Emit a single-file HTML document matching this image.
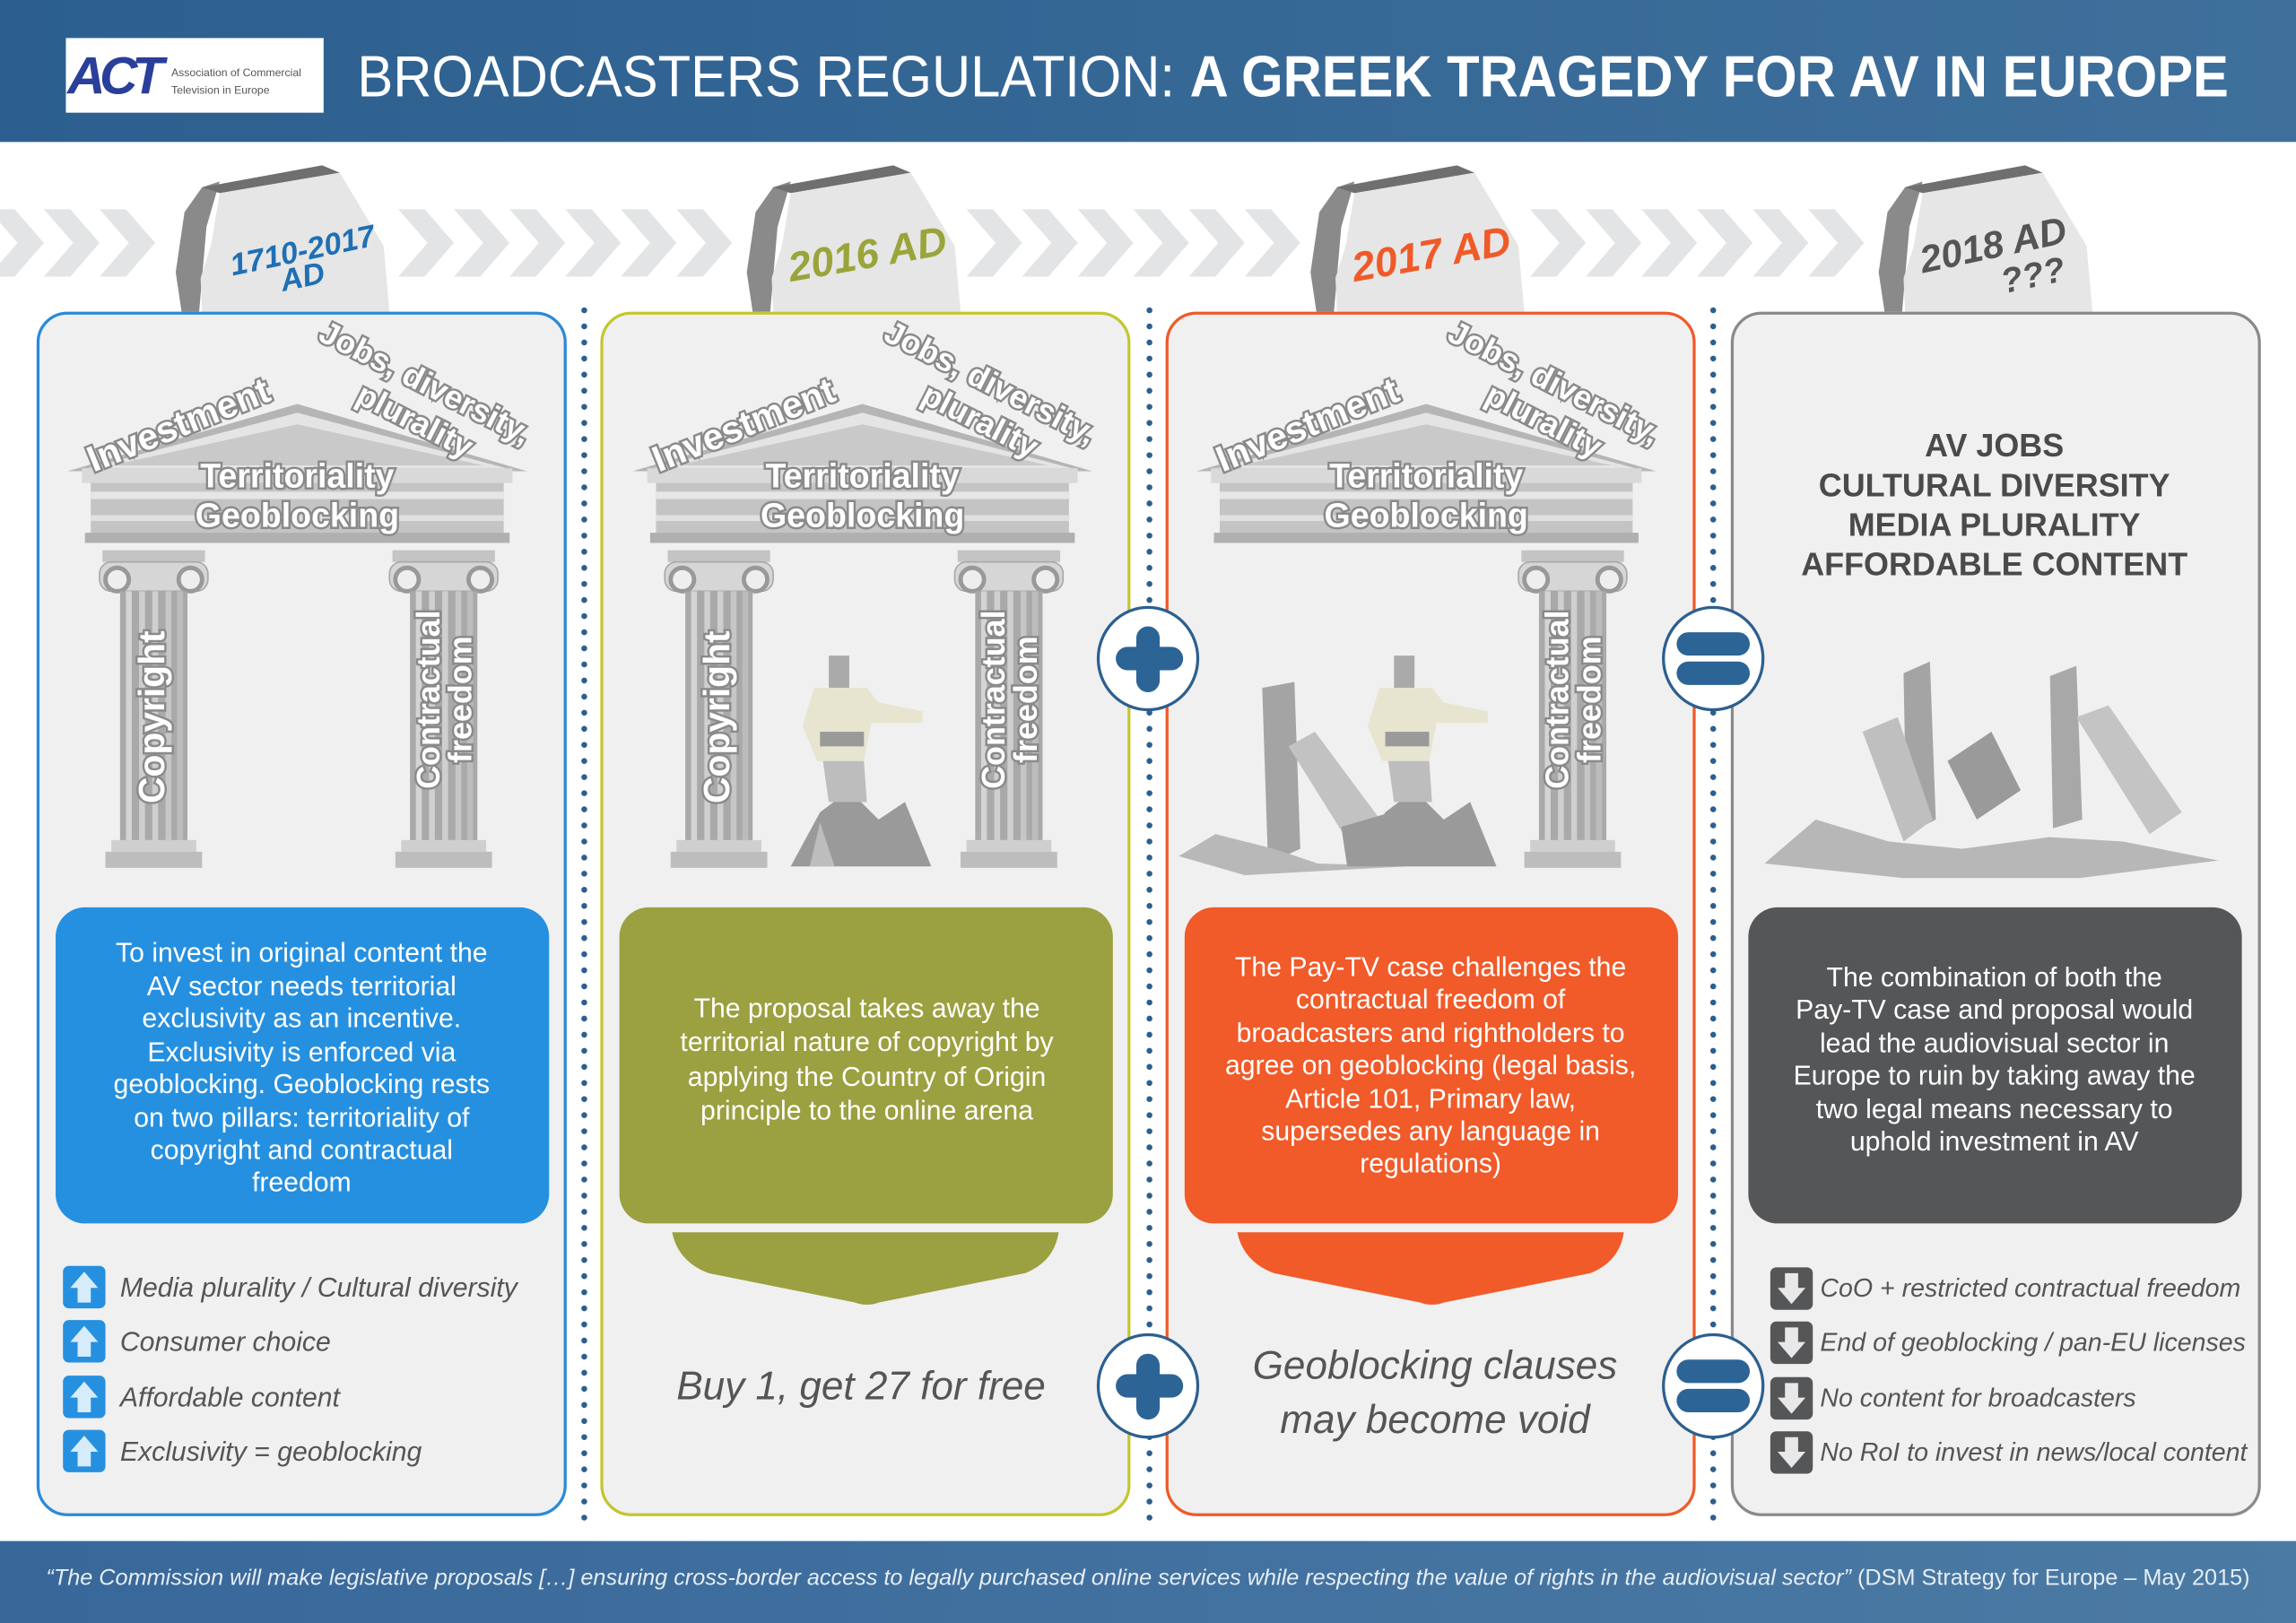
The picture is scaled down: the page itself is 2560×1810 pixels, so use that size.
<!DOCTYPE html>
<html><head><meta charset="utf-8"><style>
html,body{margin:0;padding:0;background:#fff;}
svg{display:block}
text{font-family:"Liberation Sans",sans-serif}
</style></head><body>
<svg width="2560" height="1810" viewBox="0 0 1568 1109" preserveAspectRatio="none" xmlns="http://www.w3.org/2000/svg">
<defs>
<linearGradient id="hdr" x1="0" x2="1"><stop offset="0" stop-color="#2c5f8f"/><stop offset="1" stop-color="#3f709c"/></linearGradient>
<linearGradient id="ftr" x1="0" x2="1"><stop offset="0" stop-color="#38689a"/><stop offset="1" stop-color="#4b7aa4"/></linearGradient>
<g id="col">
 <rect x="70" y="376" width="70" height="8" fill="#c4c4c4"/>
 <rect x="68" y="384" width="74" height="20" rx="8" fill="#d6d6d6" stroke="#a8a8a8"/>
 <circle cx="80" cy="396" r="8" fill="#eee" stroke="#999" stroke-width="3"/>
 <circle cx="130" cy="396" r="8" fill="#eee" stroke="#999" stroke-width="3"/>
 <rect x="82" y="404" width="46" height="174" fill="#a9a9a9"/>
 <rect x="86" y="404" width="4" height="174" fill="#d4d4d4"/>
 <rect x="95" y="404" width="4" height="174" fill="#cfcfcf"/>
 <rect x="104" y="404" width="4" height="174" fill="#cfcfcf"/>
 <rect x="113" y="404" width="4" height="174" fill="#c6c6c6"/>
 <rect x="121" y="404" width="4" height="174" fill="#bcbcbc"/>
 <rect x="76" y="574" width="58" height="8" fill="#cfcfcf"/>
 <rect x="72" y="582" width="66" height="11" fill="#bdbdbd"/>
</g>
<g id="roof">
 <polygon points="46,322 203,276 360,322" fill="#b5b5b5"/>
 <polygon points="60,320 203,282 346,320" fill="#e4e4e4"/>
 <polygon points="76,318 203,290 330,318" fill="#c9c9c9"/>
 <rect x="56" y="320" width="294" height="10" fill="#d9d9d9"/>
 <rect x="62" y="330" width="282" height="36" fill="#c4c4c4"/>
 <rect x="62" y="336" width="282" height="5" fill="#e6e6e6"/>
 <rect x="62" y="352" width="282" height="4" fill="#e0e0e0"/>
 <rect x="58" y="364" width="290" height="7" fill="#b0b0b0"/>
</g>
<g id="tomb">
 <polygon points="120,186 126,145 138,128 150,124 141,155 136,213 124,213" fill="#8a8a8a"/>
 <polygon points="138,128 220,113 232,118 150,132" fill="#6f6f6f"/>
 <polygon points="150,132 232,118 262,168 266,213 138,213 137,190 144,168" fill="#e6e6e6"/>
</g>
<g id="chev"><polygon points="0,143 18,143 38,166 18,189 0,189 20,166" fill="#e3e4e5"/></g>
</defs>

<!-- header -->
<rect x="0" y="0" width="1568" height="97" fill="url(#hdr)"/>
<rect x="45" y="26" width="176" height="51" fill="#fff"/>
<text x="46" y="64" font-size="36" font-weight="bold" fill="#2a3f9a" letter-spacing="-4" font-style="italic">ACT</text>
<text x="117" y="52" font-size="7.5" fill="#555">Association of Commercial</text>
<text x="117" y="64" font-size="7.5" fill="#555">Television in Europe</text>
<text x="244" y="66" font-size="40" fill="#fff" textLength="1278" lengthAdjust="spacingAndGlyphs"><tspan font-weight="300">BROADCASTERS REGULATION: </tspan><tspan font-weight="bold">A GREEK TRAGEDY FOR AV IN EUROPE</tspan></text>

<!-- chevrons -->
<g>
<use href="#chev" x="-8"/><use href="#chev" x="30"/><use href="#chev" x="68"/>
<use href="#chev" x="272"/><use href="#chev" x="310"/><use href="#chev" x="348"/><use href="#chev" x="386"/><use href="#chev" x="424"/><use href="#chev" x="462"/>
<use href="#chev" x="660"/><use href="#chev" x="698"/><use href="#chev" x="736"/><use href="#chev" x="774"/><use href="#chev" x="812"/><use href="#chev" x="850"/>
<use href="#chev" x="1045"/><use href="#chev" x="1083"/><use href="#chev" x="1121"/><use href="#chev" x="1159"/><use href="#chev" x="1197"/><use href="#chev" x="1235"/>
</g>
<use href="#tomb"/><use href="#tomb" x="390"/><use href="#tomb" x="775"/><use href="#tomb" x="1163"/>
<g font-weight="bold" font-style="italic">
<text transform="translate(208,178) rotate(-12)" font-size="21" fill="#1f6fb5" text-anchor="middle">1710-2017</text>
<text transform="translate(208,196) rotate(-12)" font-size="21" fill="#1f6fb5" text-anchor="middle">AD</text>
<text transform="translate(594,183) rotate(-10)" font-size="28" fill="#9aa43a" text-anchor="middle">2016 AD</text>
<text transform="translate(979,183) rotate(-10)" font-size="28" fill="#f05a28" text-anchor="middle">2017 AD</text>
<text transform="translate(1363,176) rotate(-12)" font-size="26" fill="#555" text-anchor="middle">2018 AD</text>
<text transform="translate(1390,196) rotate(-12)" font-size="24" fill="#555" text-anchor="middle">???</text>
</g>

<!-- panels -->
<rect x="26" y="214" width="360" height="821" rx="20" fill="#f0f0f0" stroke="#2a8ad8" stroke-width="2"/>
<rect x="411" y="214" width="360" height="821" rx="20" fill="#f0f0f0" stroke="#c3c72e" stroke-width="2"/>
<rect x="797" y="214" width="360" height="821" rx="20" fill="#f0f0f0" stroke="#f05a28" stroke-width="2"/>
<rect x="1183" y="214" width="360" height="821" rx="20" fill="#f0f0f0" stroke="#8a8a8a" stroke-width="2"/>

<!-- dotted separators -->
<g stroke="#2c5f8f" stroke-width="4" stroke-linecap="round" stroke-dasharray="0 11">
<line x1="399" y1="212" x2="399" y2="1045"/>
<line x1="785" y1="212" x2="785" y2="1045"/>
<line x1="1170" y1="212" x2="1170" y2="1045"/>
</g>

<!-- temples -->
<use href="#roof"/><use href="#col"/><use href="#col" x="198"/>
<use href="#roof" x="386"/><use href="#col" x="386"/><use href="#col" x="584"/>
<use href="#roof" x="771"/><use href="#col" x="969"/>

<!-- figure panel 2 -->
<g id="hero">
<polygon points="540,592 560,555 580,540 600,560 618,548 636,592" fill="#9a9a9a"/>
<polygon points="553,592 560,562 570,592" fill="#bdbdbd"/>
<rect x="566" y="448" width="14" height="22" fill="#aaa"/>
<polygon points="556,470 592,470 600,480 630,486 630,494 595,494 590,520 558,520 548,496" fill="#e7e5d0"/>
<rect x="560" y="500" width="30" height="10" fill="#9a9a9a"/>
<polygon points="562,520 590,520 592,548 566,548" fill="#bdbdbd"/>
</g>
<use href="#hero" x="386"/>

<!-- ruins panel 3 -->
<g fill="#b0b0b0">
<polygon points="862,470 884,466 888,580 866,590" fill="#a4a4a4"/>
<polygon points="880,510 898,500 950,570 930,590" fill="#c2c2c2"/>
<polygon points="805,585 830,570 870,580 900,590 960,592 850,598" fill="#b8b8b8"/>
<polygon points="916,565 950,555 960,592 920,592" fill="#9a9a9a"/>
</g>
<!-- ruins panel 4 -->
<g>
<polygon points="1300,460 1318,452 1322,560 1302,570" fill="#a4a4a4"/>
<polygon points="1272,500 1296,490 1320,560 1300,575" fill="#bfbfbf"/>
<polygon points="1400,462 1418,455 1422,560 1402,566" fill="#a8a8a8"/>
<polygon points="1418,490 1440,482 1490,555 1468,570" fill="#c4c4c4"/>
<polygon points="1205,590 1240,560 1290,575 1340,580 1400,572 1450,575 1515,588 1420,600 1300,600" fill="#b7b7b7"/>
<polygon points="1330,520 1360,500 1380,540 1350,560" fill="#9a9a9a"/>
</g>

<!-- temple labels -->
<g font-weight="bold" fill="#fff" stroke="#8a8a8a" stroke-width="3" paint-order="stroke" text-anchor="middle">
<text x="203" y="333" font-size="23">Territoriality</text>
<text x="203" y="360" font-size="23">Geoblocking</text>
<text transform="translate(125,298) rotate(-22)" font-size="25">Investment</text>
<text transform="translate(287,268) rotate(27)" font-size="22">Jobs, diversity,</text>
<text transform="translate(280,294) rotate(27)" font-size="22">plurality</text>
<text transform="translate(112,490) rotate(-90)" font-size="25">Copyright</text>
<text transform="translate(300,478) rotate(-90)" font-size="22">Contractual</text>
<text transform="translate(322,478) rotate(-90)" font-size="22">freedom</text>

<text x="589" y="333" font-size="23">Territoriality</text>
<text x="589" y="360" font-size="23">Geoblocking</text>
<text transform="translate(511,298) rotate(-22)" font-size="25">Investment</text>
<text transform="translate(673,268) rotate(27)" font-size="22">Jobs, diversity,</text>
<text transform="translate(666,294) rotate(27)" font-size="22">plurality</text>
<text transform="translate(498,490) rotate(-90)" font-size="25">Copyright</text>
<text transform="translate(686,478) rotate(-90)" font-size="22">Contractual</text>
<text transform="translate(708,478) rotate(-90)" font-size="22">freedom</text>

<text x="974" y="333" font-size="23">Territoriality</text>
<text x="974" y="360" font-size="23">Geoblocking</text>
<text transform="translate(896,298) rotate(-22)" font-size="25">Investment</text>
<text transform="translate(1058,268) rotate(27)" font-size="22">Jobs, diversity,</text>
<text transform="translate(1051,294) rotate(27)" font-size="22">plurality</text>
<text transform="translate(1071,478) rotate(-90)" font-size="22">Contractual</text>
<text transform="translate(1093,478) rotate(-90)" font-size="22">freedom</text>
</g>

<g font-weight="bold" fill="#4a4a4a" font-size="22" text-anchor="middle">
<text x="1362" y="312">AV JOBS</text>
<text x="1362" y="339">CULTURAL DIVERSITY</text>
<text x="1362" y="366">MEDIA PLURALITY</text>
<text x="1362" y="393">AFFORDABLE CONTENT</text>
</g>

<!-- text boxes -->
<rect x="38" y="620" width="337" height="216" rx="20" fill="#2690e0"/>
<rect x="423" y="620" width="337" height="216" rx="20" fill="#9ba040"/>
<rect x="809" y="620" width="337" height="216" rx="20" fill="#f15a29"/>
<rect x="1194" y="620" width="337" height="216" rx="20" fill="#555658"/>
<path d="M459,842 L723,842 Q720,862 700,870 L600,890 Q592,893 584,890 L484,870 Q463,862 459,842 Z" fill="#9ba040"/>
<path d="M845,842 L1109,842 Q1106,862 1086,870 L986,890 Q978,893 970,890 L870,870 Q849,862 845,842 Z" fill="#f15a29"/>

<g fill="#fff" font-size="18.5" text-anchor="middle">
<text x="206" y="657">To invest in original content the</text>
<text x="206" y="680">AV sector needs territorial</text>
<text x="206" y="702">exclusivity as an incentive.</text>
<text x="206" y="725">Exclusivity is enforced via</text>
<text x="206" y="747">geoblocking. Geoblocking rests</text>
<text x="206" y="770">on two pillars: territoriality of</text>
<text x="206" y="792">copyright and contractual</text>
<text x="206" y="814">freedom</text>

<text x="592" y="695">The proposal takes away the</text>
<text x="592" y="718">territorial nature of copyright by</text>
<text x="592" y="742">applying the Country of Origin</text>
<text x="592" y="765">principle to the online arena</text>

<text x="977" y="667">The Pay-TV case challenges the</text>
<text x="977" y="689">contractual freedom of</text>
<text x="977" y="712">broadcasters and rightholders to</text>
<text x="977" y="734">agree on geoblocking (legal basis,</text>
<text x="977" y="757">Article 101, Primary law,</text>
<text x="977" y="779">supersedes any language in</text>
<text x="977" y="801">regulations)</text>

<text x="1362" y="674">The combination of both the</text>
<text x="1362" y="696">Pay-TV case and proposal would</text>
<text x="1362" y="719">lead the audiovisual sector in</text>
<text x="1362" y="741">Europe to ruin by taking away the</text>
<text x="1362" y="764">two legal means necessary to</text>
<text x="1362" y="786">uphold investment in AV</text>
</g>

<!-- list 1 -->
<g id="up">
<rect x="43" y="865" width="29" height="29" rx="4" fill="#2690e0"/>
<polygon points="57.5,869 67,880 62,880 62,890 53,890 53,880 48,880" fill="#d7ecfb"/>
</g>
<use href="#up" y="37"/><use href="#up" y="75"/><use href="#up" y="112"/>
<g font-size="18.5" font-style="italic" fill="#555">
<text x="82" y="886">Media plurality / Cultural diversity</text>
<text x="82" y="923">Consumer choice</text>
<text x="82" y="961">Affordable content</text>
<text x="82" y="998">Exclusivity = geoblocking</text>
</g>

<!-- list 4 -->
<g id="down">
<rect x="1209" y="866" width="29" height="29" rx="4" fill="#555658"/>
<polygon points="1223.5,891 1233,880 1228,880 1228,870 1219,870 1219,880 1214,880" fill="#e8e8e8"/>
</g>
<use href="#down" y="37"/><use href="#down" y="75"/><use href="#down" y="112"/>
<g font-size="17.5" font-style="italic" fill="#555">
<text x="1243" y="886">CoO + restricted contractual freedom</text>
<text x="1243" y="923">End of geoblocking / pan-EU licenses</text>
<text x="1243" y="961">No content for broadcasters</text>
<text x="1243" y="998">No RoI to invest in news/local content</text>
</g>

<g font-size="27" font-style="italic" fill="#555" text-anchor="middle">
<text x="588" y="956">Buy 1, get 27 for free</text>
<text x="980" y="942">Geoblocking clauses</text>
<text x="980" y="979">may become void</text>
</g>

<!-- plus / equals circles -->
<g stroke="#2c5f8f" stroke-width="2" fill="#fff">
<ellipse cx="784" cy="450" rx="34" ry="35"/>
<ellipse cx="784" cy="947" rx="34" ry="35"/>
<ellipse cx="1170" cy="450" rx="34" ry="35"/>
<ellipse cx="1170" cy="947" rx="34" ry="35"/>
</g>
<g fill="#2c6496">
<rect x="762" y="442" width="46" height="16" rx="8"/><rect x="776" y="428" width="16" height="45" rx="8"/>
<rect x="762" y="939" width="46" height="16" rx="8"/><rect x="776" y="925" width="16" height="45" rx="8"/>
<rect x="1145" y="432" width="50" height="16" rx="8"/><rect x="1145" y="452" width="50" height="16" rx="8"/>
<rect x="1145" y="929" width="50" height="16" rx="8"/><rect x="1145" y="949" width="50" height="16" rx="8"/>
</g>

<!-- footer -->
<rect x="0" y="1053" width="1568" height="56" fill="url(#ftr)"/>
<text x="784" y="1083" font-size="15.5" fill="#e6edf4" text-anchor="middle" textLength="1505" lengthAdjust="spacingAndGlyphs"><tspan font-style="italic">“The Commission will make legislative proposals […] ensuring cross-border access to legally purchased online services while respecting the value of rights in the audiovisual sector”</tspan> (DSM Strategy for Europe – May 2015)</text>
</svg>
</body></html>
